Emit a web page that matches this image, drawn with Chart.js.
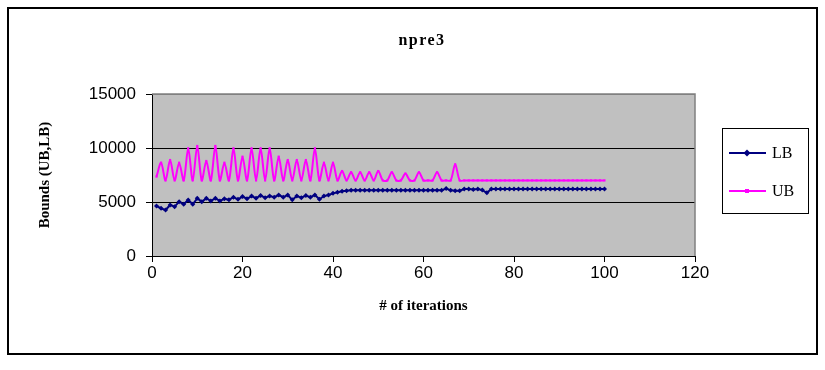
<!DOCTYPE html>
<html>
<head>
<meta charset="utf-8">
<script src="https://cdn.jsdelivr.net/npm/chart.js@4.4.1/dist/chart.umd.min.js"></script>
<style>
  body { margin: 0; background: #fff; }
  #wrap { width: 825px; height: 370px; }
</style>
</head>
<body>
<div id="wrap"><canvas id="chart" width="825" height="370"></canvas></div>
<script>
// iterations 1..100
const iterations = Array.from({ length: 100 }, (_, i) => i + 1)

const lbValues = [
  4630, 4410, 4260, 4720, 4570, 5030, 4790, 5190, 4790, 5340,
  5030, 5340, 5100, 5340, 5100, 5300, 5200, 5450, 5250, 5500,
  5300, 5550, 5350, 5600, 5400, 5550, 5450, 5650, 5450, 5650,
  5200, 5550, 5400, 5600, 5450, 5650, 5250, 5550, 5650, 5800,
  5900, 6000, 6050, 6080, 6080, 6080, 6080, 6080, 6080, 6080,
  6080, 6080, 6080, 6080, 6080, 6080, 6080, 6080, 6080, 6080,
  6080, 6080, 6080, 6080, 6250, 6080, 6050, 6050, 6200, 6200,
  6150, 6200, 6100, 5850, 6200, 6200, 6200, 6200, 6200, 6200,
  6200, 6200, 6200, 6200, 6200, 6200, 6200, 6200, 6200, 6200,
  6200, 6200, 6200, 6200, 6200, 6200, 6200, 6200, 6200, 6200
]

const ubValues = [
  7350, 8640, 7000, 8890, 7000, 8640, 7000, 9970, 7000, 10190,
  7000, 8800, 7000, 10190, 7000, 8640, 7000, 9970, 7000, 9200,
  7000, 9970, 7000, 9970, 7000, 9970, 7000, 9200, 7000, 8890,
  7000, 8890, 7000, 8890, 7000, 9970, 7000, 8640, 7000, 8640,
  7000, 7870, 7000, 7750, 7000, 7750, 7000, 7750, 7000, 7870,
  7000, 7000, 7750, 7000, 7000, 7630, 7000, 7000, 7750, 7000,
  7000, 7000, 7750, 7000, 7000, 7000, 8490, 7000, 7000, 7000,
  7000, 7000, 7000, 7000, 7000, 7000, 7000, 7000, 7000, 7000,
  7000, 7000, 7000, 7000, 7000, 7000, 7000, 7000, 7000, 7000,
  7000, 7000, 7000, 7000, 7000, 7000, 7000, 7000, 7000, 7000
]

const seriesNames = ['LB', 'UB']
const xTicks = [0, 20, 40, 60, 80, 100, 120]
const yTicks = [0, 5000, 10000, 15000]

const colors = {
  lb: '#000080',
  ub: '#FF00FF',
  plot: '#C0C0C0',
  plotBorder: '#808080',
}

const serif = '"Liberation Serif", "Times New Roman", serif'
const sans = '"Liberation Sans", Arial, sans-serif'

const toPoints = (vals) => vals.map((v, i) => ({ x: iterations[i], y: v }))

// plot background, outer frame, boxed legend and title
const frame = {
  id: 'frame',
  beforeDraw(chart) {
    const { ctx, chartArea: a } = chart
    ctx.save()
    ctx.fillStyle = '#fff'
    ctx.fillRect(0, 0, chart.width, chart.height)
    ctx.fillStyle = colors.plot
    ctx.fillRect(a.left, a.top, a.right - a.left, a.bottom - a.top)
    ctx.restore()
  },
  afterDatasetsDraw(chart) {
    const { ctx, chartArea: a } = chart
    ctx.save()
    ctx.strokeStyle = colors.plotBorder
    ctx.lineWidth = 1.5
    ctx.beginPath()
    ctx.moveTo(a.left, a.top)
    ctx.lineTo(a.right, a.top)
    ctx.lineTo(a.right, a.bottom)
    ctx.stroke()

    // outer frame
    ctx.strokeStyle = '#000'
    ctx.lineWidth = 2
    ctx.strokeRect(8, 8, 809, 346)

    // legend
    const lx = 722, ly = 128, lw = 86, lh = 85
    ctx.fillStyle = '#fff'
    ctx.fillRect(lx, ly, lw, lh)
    ctx.lineWidth = 1
    ctx.strokeRect(lx + 0.5, ly + 0.5, lw, lh)
    chart.data.datasets.forEach((ds, i) => {
      const y = ly + 25 + i * 38
      ctx.strokeStyle = ds.borderColor
      ctx.lineWidth = 2
      ctx.beginPath()
      ctx.moveTo(lx + 7, y)
      ctx.lineTo(lx + 44, y)
      ctx.stroke()
      ctx.fillStyle = ds.borderColor
      if (ds.pointStyle === 'rectRot') {
        ctx.beginPath()
        ctx.moveTo(lx + 25, y - 3.5)
        ctx.lineTo(lx + 28.5, y)
        ctx.lineTo(lx + 25, y + 3.5)
        ctx.lineTo(lx + 21.5, y)
        ctx.closePath()
        ctx.fill()
      } else {
        ctx.fillRect(lx + 23, y - 2, 4, 4)
      }
      ctx.fillStyle = '#000'
      ctx.font = '16px ' + serif
      ctx.textBaseline = 'middle'
      ctx.fillText(ds.label, lx + 50, y + 1)
    })

    // chart title
    ctx.fillStyle = '#000'
    ctx.font = 'bold 16px ' + serif
    ctx.letterSpacing = '1.5px'
    ctx.textAlign = 'center'
    ctx.fillText('npre3', 422, 41)
    ctx.restore()
  }
}

const ctx = document.getElementById('chart')
new Chart(ctx, {
  type: 'line',
  data: {
    datasets: [
      {
        label: seriesNames[0],
        data: toPoints(lbValues),
        borderColor: colors.lb,
        backgroundColor: colors.lb,
        borderWidth: 2,
        pointStyle: 'rectRot',
        pointRadius: 2.5,
        pointBorderWidth: 0,
        tension: 0,
      },
      {
        label: seriesNames[1],
        data: toPoints(ubValues),
        borderColor: colors.ub,
        backgroundColor: colors.ub,
        borderWidth: 2,
        pointStyle: 'rect',
        pointRadius: 1.5,
        pointBorderWidth: 0,
        tension: 0.3,
      },
    ]
  },
  options: {
    responsive: false,
    animation: false,
    layout: { padding: { left: 10, right: 130, top: 94, bottom: 55 } },
    plugins: {
      legend: { display: false },
      tooltip: { enabled: false },
      title: { display: false },
    },
    scales: {
      x: {
        type: 'linear',
        min: 0,
        max: 120,
        afterBuildTicks: (s) => { s.ticks = xTicks.map(v => ({ value: v })) },
        afterFit: (s) => { s.height = 59 },
        grid: { drawOnChartArea: false, drawTicks: true, tickLength: 6, color: '#000' },
        border: { color: '#000', width: 1 },
        ticks: {
          color: '#000',
          padding: 1,
          font: { family: sans, size: 17 },
        },
        title: {
          display: true,
          text: '# of iterations',
          color: '#000',
          padding: { top: 0, bottom: 0 },
          font: { family: serif, size: 15, weight: 'bold' },
        },
      },
      y: {
        min: 0,
        max: 15000,
        afterBuildTicks: (s) => { s.ticks = yTicks.map(v => ({ value: v })) },
        afterFit: (s) => { s.width = 142 },
        grid: {
          color: (c) => (c.tick && c.tick.value === 15000 ? colors.plotBorder : '#000'),
          tickColor: '#000',
          drawTicks: true,
          tickLength: 6,
        },
        border: { color: '#000', width: 1 },
        ticks: {
          color: '#000',
          padding: 10,
          callback: (v) => String(v),
          font: { family: sans, size: 17 },
        },
        title: {
          display: true,
          text: 'Bounds (UB,LB)',
          color: '#000',
          padding: { top: 26, bottom: 0 },
          font: { family: serif, size: 15, weight: 'bold' },
        },
      },
    },
  },
  plugins: [frame],
})
</script>
</body>
</html>
